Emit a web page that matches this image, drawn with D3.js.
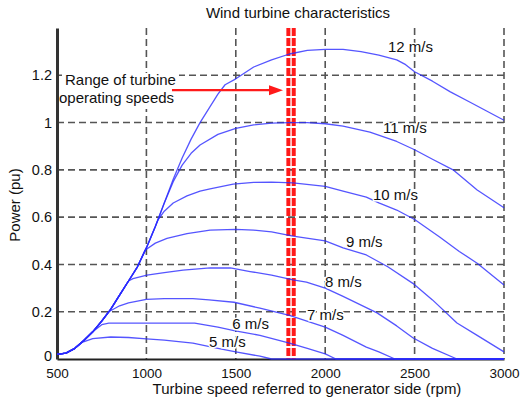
<!DOCTYPE html>
<html><head><meta charset="utf-8">
<script src="https://cdn.jsdelivr.net/npm/d3@7"></script>
<style>
html,body{margin:0;padding:0;background:#fff;}
svg{display:block;font-family:"Liberation Sans",Arial,sans-serif;}
</style></head>
<body><svg id="c" width="520" height="401"></svg>
<script>
// ---- data ----
const xTicks = [500, 1000, 1500, 2000, 2500, 3000];
const yTicks = [0, 0.2, 0.4, 0.6, 0.8, 1, 1.2];
const yTickLabels = ["0", "0.2", "0.4", "0.6", "0.8", "1", "1.2"];
const windSpeeds = ["5 m/s", "6 m/s", "7 m/s", "8 m/s", "9 m/s", "10 m/s", "11 m/s", "12 m/s"];
const p5 = [[500,0.02],[550,0.025],[600,0.045],[640,0.07],[700,0.086],[800,0.093],[900,0.091],[1000,0.085],[1100,0.08],[1260,0.067],[1400,0.045],[1500,0.03],[1635,0.012],[1700,0],[3000,0]];
const p6 = [[500,0.02],[550,0.025],[600,0.045],[650,0.078],[700,0.115],[750,0.145],[790,0.152],[1270,0.152],[1400,0.135],[1490,0.12],[1635,0.1],[1800,0.067],[1900,0.045],[2000,0.022],[2060,0],[3000,0]];
const p7 = [[500,0.02],[550,0.025],[600,0.045],[650,0.078],[700,0.115],[750,0.16],[790,0.2],[850,0.225],[900,0.237],[1000,0.252],[1100,0.255],[1260,0.255],[1350,0.25],[1490,0.24],[1635,0.215],[1800,0.185],[2000,0.135],[2100,0.1],[2230,0.05],[2300,0.03],[2390,0],[3000,0]];
const p8 = [[500,0.02],[550,0.025],[600,0.045],[650,0.078],[700,0.115],[750,0.16],[800,0.21],[850,0.27],[900,0.33],[925,0.34],[1003,0.355],[1100,0.365],[1205,0.376],[1356,0.385],[1470,0.385],[1580,0.37],[1700,0.355],[1820,0.335],[1895,0.325],[2000,0.3],[2100,0.265],[2290,0.195],[2400,0.14],[2490,0.09],[2600,0.045],[2737,0],[3000,0]];
const p9 = [[500,0.02],[550,0.025],[600,0.045],[650,0.078],[700,0.115],[750,0.16],[800,0.21],[850,0.27],[900,0.33],[950,0.39],[992,0.46],[1050,0.49],[1115,0.51],[1227,0.53],[1356,0.545],[1500,0.548],[1600,0.545],[1700,0.538],[1820,0.52],[2000,0.5],[2100,0.47],[2230,0.44],[2350,0.39],[2490,0.32],[2600,0.25],[2737,0.152],[2850,0.1],[3000,0.03]];
const p10 = [[500,0.02],[550,0.025],[600,0.045],[650,0.078],[700,0.115],[750,0.16],[800,0.21],[850,0.27],[900,0.33],[950,0.39],[1000,0.47],[1050,0.56],[1066,0.59],[1100,0.625],[1150,0.66],[1227,0.69],[1300,0.71],[1356,0.72],[1485,0.74],[1600,0.747],[1700,0.748],[1820,0.745],[2000,0.73],[2100,0.71],[2230,0.685],[2300,0.66],[2400,0.63],[2500,0.59],[2640,0.516],[2750,0.455],[2850,0.405],[3000,0.313]];
const p11 = [[500,0.02],[550,0.025],[600,0.045],[650,0.078],[700,0.115],[750,0.16],[800,0.21],[850,0.27],[900,0.33],[950,0.39],[1000,0.47],[1050,0.56],[1100,0.66],[1150,0.75],[1200,0.82],[1250,0.87],[1300,0.905],[1400,0.95],[1500,0.975],[1600,0.99],[1700,0.998],[1800,1.0],[1900,1.0],[2000,0.995],[2100,0.985],[2250,0.96],[2400,0.92],[2500,0.885],[2600,0.845],[2715,0.8],[2850,0.715],[3000,0.64]];
const p12 = [[500,0.02],[550,0.025],[600,0.045],[650,0.078],[700,0.115],[750,0.16],[800,0.21],[850,0.27],[900,0.33],[950,0.39],[1000,0.47],[1050,0.56],[1100,0.66],[1150,0.76],[1200,0.85],[1250,0.93],[1300,1.0],[1350,1.06],[1400,1.12],[1440,1.16],[1500,1.185],[1600,1.235],[1700,1.265],[1800,1.29],[1900,1.305],[2000,1.31],[2100,1.31],[2200,1.3],[2300,1.285],[2400,1.265],[2450,1.245],[2500,1.215],[2600,1.175],[2700,1.13],[2800,1.09],[2900,1.05],[3000,1.01]];
const curves = [p5, p6, p7, p8, p9, p10, p11, p12];
const operatingSpeeds = [1794, 1824];   // rpm band (red dashed lines)
const arrowFrom = [1143, 1.137], arrowTo = [1764, 1.137];

// ---- layout ----
const labelAt = [[1350,0.051],[1480,0.127],[1898,0.165],[1999,0.304],[2116,0.474],[2267,0.672],[2323,0.956],[2351,1.298]];
const svg = d3.select("#c");
const x = d3.scaleLinear().domain([500, 3000]).range([57, 504]);
const y = d3.scaleLinear().domain([0, 1.4]).range([359, 28]);

// grid
const g = svg.append("g");
g.selectAll(".vg").data(xTicks.slice(1)).join("line")
  .attr("x1", d => x(d)).attr("x2", d => x(d)).attr("y1", y(1.4)).attr("y2", y(0))
  .attr("stroke", "#555").attr("stroke-width", 1.6).attr("stroke-dasharray", "7,4");
g.selectAll(".hg").data(yTicks.slice(1)).join("line")
  .attr("x1", x(500)).attr("x2", x(3000)).attr("y1", d => y(d)).attr("y2", d => y(d))
  .attr("stroke", "#555").attr("stroke-width", 1.6).attr("stroke-dasharray", "7,4");

// axes
const xAxis = d3.axisBottom(x).tickValues(xTicks).tickFormat(d3.format("d")).tickSize(0).tickPadding(9);
const ax = svg.append("g").attr("transform", `translate(0,${y(0)})`).call(xAxis);
ax.select(".domain").attr("stroke", "#222").attr("stroke-width", 2);
ax.selectAll("text").attr("font-size", 13.5).attr("fill", "#111").attr("font-family", "Liberation Sans, Arial, sans-serif");
const yAxis = d3.axisLeft(y).tickValues(yTicks).tickFormat((d, i) => yTickLabels[i]).tickSize(0).tickPadding(5);
const ay = svg.append("g").attr("transform", `translate(${x(500)},0)`).call(yAxis);
ay.select(".domain").attr("stroke", "#333").attr("stroke-width", 3);
ay.selectAll("text").attr("font-size", 14.5).attr("fill", "#111").attr("font-family", "Liberation Sans, Arial, sans-serif");
ay.selectAll(".tick").filter(d => d === 0).select("text").attr("dy", "0.1em");

// text box background for annotation
svg.append("rect").attr("x", 62).attr("y", 73).attr("width", 117).attr("height", 36).attr("fill", "#fff");

// red operating-speed band
svg.selectAll(".op").data(operatingSpeeds).join("line")
  .attr("x1", d => x(d)).attr("x2", d => x(d)).attr("y1", y(1.4)).attr("y2", y(0))
  .attr("stroke", "#ff1a1a").attr("stroke-width", 4).attr("stroke-dasharray", "8,2");

// curves
const line = d3.line().x(d => x(d[0])).y(d => y(d[1]));
svg.append("g").selectAll("path").data(curves).join("path")
  .attr("d", line).attr("fill", "none").attr("stroke", "#2a2aff")
  .attr("stroke-opacity", 0.8).attr("stroke-width", 1.3).attr("stroke-linejoin", "round");

// curve labels
svg.append("g").selectAll("text").data(windSpeeds).join("text")
  .attr("x", (d, i) => x(labelAt[i][0])).attr("y", (d, i) => y(labelAt[i][1]))
  .attr("font-size", 15).attr("fill", "#111")
  .attr("stroke", "#fff").attr("stroke-width", 3).attr("paint-order", "stroke")
  .text(d => d);

// arrow
svg.append("line").attr("x1", x(arrowFrom[0])).attr("y1", y(arrowFrom[1]))
  .attr("x2", x(arrowTo[0]) - 12).attr("y2", y(arrowTo[1]))
  .attr("stroke", "#ff1a1a").attr("stroke-width", 2.2);
const tx = x(arrowTo[0]), ty = y(arrowTo[1]);
svg.append("path").attr("d", `M${tx},${ty} L${tx-14},${ty-5} L${tx-14},${ty+5} Z`).attr("fill", "#ff1a1a");

// annotation text
const ann = svg.append("text").attr("font-size", 15).attr("fill", "#111");
ann.append("tspan").attr("x", 65).attr("y", 85).text("Range of turbine");
ann.append("tspan").attr("x", 59).attr("y", 103).text("operating speeds");

// title & axis labels
svg.append("text").attr("x", 298).attr("y", 18).attr("text-anchor", "middle")
  .attr("font-size", 15).attr("fill", "#111").text("Wind turbine characteristics");
svg.append("text").attr("x", 307).attr("y", 394).attr("text-anchor", "middle")
  .attr("font-size", 15).attr("fill", "#111").text("Turbine speed referred to generator side (rpm)");
svg.append("text").attr("transform", "translate(20,205) rotate(-90)").attr("text-anchor", "middle")
  .attr("font-size", 15).attr("fill", "#111").text("Power (pu)");
</script></body></html>
